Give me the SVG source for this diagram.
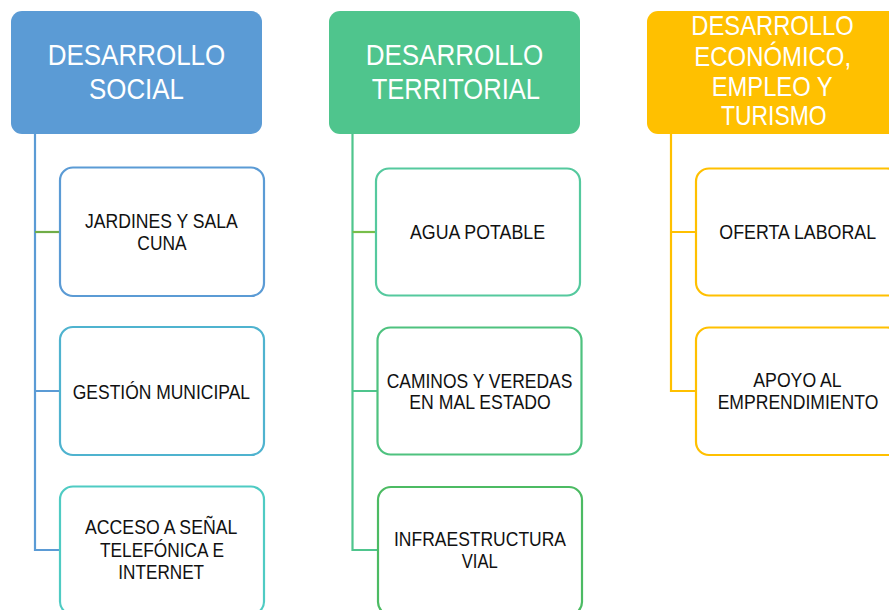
<svg xmlns="http://www.w3.org/2000/svg" width="889" height="610" viewBox="0 0 889 610">
<style>
.hd{font-family:"Liberation Sans Narrow","Arial Narrow","Liberation Sans",sans-serif;fill:#fff;text-anchor:middle}
.tx{font-family:"Liberation Sans Narrow","Arial Narrow","Liberation Sans",sans-serif;fill:#111;font-size:19.5px;text-anchor:middle}
.bx{fill:#fff;stroke-width:2.2}
.ln{fill:none;stroke-width:2.2}
</style>
<rect width="889" height="610" fill="#fff"/>
<g id="connectors">
<path class="ln" stroke="#5B9BD5" d="M35 134V550H60M35 391H60"/>
<path class="ln" stroke="#70AD47" d="M35 232H60"/>
<path class="ln" stroke="#4FC58D" d="M352.5 134V550H377M352.5 391H377"/>
<path class="ln" stroke="#77BE4A" d="M352.5 232H376"/>
<path class="ln" stroke="#FFC000" d="M671 134V391H696M671 232H696"/>
</g>
<g id="h1"><rect x="11" y="11" width="251" height="123" rx="11" fill="#5B9BD5"/>
<text class="hd" font-size="30" x="136.5" y="65" textLength="177.6" lengthAdjust="spacingAndGlyphs">DESARROLLO</text><text class="hd" font-size="30" x="136.5" y="99" textLength="95" lengthAdjust="spacingAndGlyphs">SOCIAL</text></g>
<g id="h2"><rect x="329" y="11" width="251" height="123" rx="11" fill="#4FC58D"/>
<text class="hd" font-size="30" x="454.5" y="65" textLength="177.6" lengthAdjust="spacingAndGlyphs">DESARROLLO</text><text class="hd" font-size="30" x="455.8" y="99" textLength="168.3" lengthAdjust="spacingAndGlyphs">TERRITORIAL</text></g>
<g id="h3"><rect x="647" y="11" width="252" height="123" rx="11" fill="#FFC000"/>
<text class="hd" font-size="28" x="772.5" y="35" textLength="162.3" lengthAdjust="spacingAndGlyphs">DESARROLLO</text><text class="hd" font-size="28" x="772.7" y="65.5" textLength="156.7" lengthAdjust="spacingAndGlyphs">ECONÓMICO,</text><text class="hd" font-size="28" x="772.2" y="96" textLength="121" lengthAdjust="spacingAndGlyphs">EMPLEO Y</text><text class="hd" font-size="28" x="773.8" y="124.5" textLength="105.7" lengthAdjust="spacingAndGlyphs">TURISMO</text></g>
<g id="n1"><rect class="bx" stroke="#5B9BD5" x="60" y="167.5" width="204" height="128.5" rx="13"/>
<text class="tx" x="161.4" y="227.5" textLength="152.7" lengthAdjust="spacingAndGlyphs">JARDINES Y SALA</text><text class="tx" x="162" y="249.5" textLength="49.3" lengthAdjust="spacingAndGlyphs">CUNA</text></g>
<g id="n2"><rect class="bx" stroke="#4FB3CF" x="60" y="327" width="204" height="128" rx="13"/>
<text class="tx" x="161.4" y="398.5" textLength="177.3" lengthAdjust="spacingAndGlyphs">GESTIÓN MUNICIPAL</text></g>
<g id="n3"><rect class="bx" stroke="#4FCBC3" x="60" y="486.5" width="204" height="128" rx="13"/>
<text class="tx" x="161.2" y="533.5" textLength="152.3" lengthAdjust="spacingAndGlyphs">ACCESO A SEÑAL</text><text class="tx" x="162" y="556.5" textLength="124" lengthAdjust="spacingAndGlyphs">TELEFÓNICA E</text><text class="tx" x="161.2" y="579" textLength="85.7" lengthAdjust="spacingAndGlyphs">INTERNET</text></g>
<g id="n4"><rect class="bx" stroke="#55C99E" x="376" y="168.5" width="204" height="127" rx="13"/>
<text class="tx" x="477.5" y="239" textLength="135" lengthAdjust="spacingAndGlyphs">AGUA POTABLE</text></g>
<g id="n5"><rect class="bx" stroke="#4EC27F" x="377.5" y="327.5" width="204" height="127" rx="13"/>
<text class="tx" x="479.5" y="387.5" textLength="185.7" lengthAdjust="spacingAndGlyphs">CAMINOS Y VEREDAS</text><text class="tx" x="480" y="409" textLength="141.3" lengthAdjust="spacingAndGlyphs">EN MAL ESTADO</text></g>
<g id="n6"><rect class="bx" stroke="#4CBB63" x="378" y="487" width="204" height="128" rx="13"/>
<text class="tx" x="480" y="546" textLength="172" lengthAdjust="spacingAndGlyphs">INFRAESTRUCTURA</text><text class="tx" x="479.7" y="568" textLength="36" lengthAdjust="spacingAndGlyphs">VIAL</text></g>
<g id="n7"><rect class="bx" stroke="#FFC000" x="696" y="168.5" width="204" height="127" rx="13"/>
<text class="tx" x="797.7" y="239" textLength="156.7" lengthAdjust="spacingAndGlyphs">OFERTA LABORAL</text></g>
<g id="n8"><rect class="bx" stroke="#FFC000" x="696" y="327.5" width="204" height="127.5" rx="13"/>
<text class="tx" x="797.5" y="387" textLength="88.3" lengthAdjust="spacingAndGlyphs">APOYO AL</text><text class="tx" x="798" y="409" textLength="160.7" lengthAdjust="spacingAndGlyphs">EMPRENDIMIENTO</text></g>
</svg>
